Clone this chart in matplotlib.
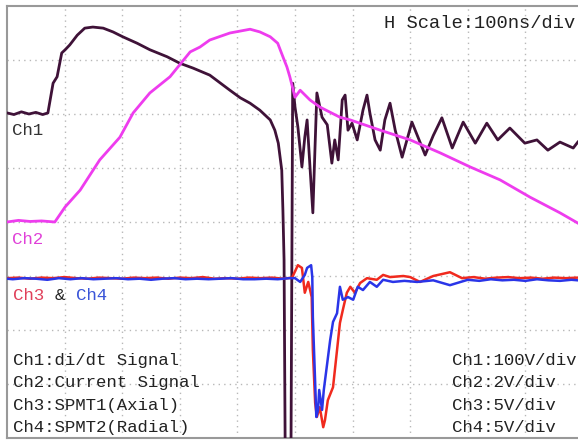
import matplotlib
matplotlib.use('Agg')
import matplotlib.pyplot as plt

# time in ns (100 ns/div), amplitude in screen divisions
ch1_t = [0, 12, 25, 38, 50, 62, 71, 80, 87, 95, 101, 109, 122, 135, 149, 167, 184, 201, 226, 248,
         278, 300, 323, 352, 387, 405, 422, 439, 457, 465, 471, 477, 479, 481, 483, 493, 496, 500,
         505, 512, 517, 521, 526, 531, 535, 538, 547, 556, 564, 569, 575, 582, 587, 592, 599, 608,
         618, 625, 630, 639, 648, 656, 665, 674, 686, 703, 726, 740, 755, 773, 792, 813, 833, 852,
         873, 899, 920, 939, 960, 983, 991]
ch1_v = [2.02, 1.99, 2.04, 2.0, 2.03, 1.99, 2.02, 2.57, 2.69, 3.13, 3.19, 3.28, 3.46, 3.59, 3.61,
         3.59, 3.52, 3.43, 3.31, 3.19, 3.06, 2.94, 2.85, 2.72, 2.44, 2.3, 2.2, 2.07, 1.89, 1.7, 1.46,
         0.96, 0.22, -0.7, -4.3, -4.3, 2.57, 2.13, 1.76, 1.02, 1.57, 1.89, 1.02, 0.17, 1.46, 2.39,
         1.94, 1.8, 1.09, 1.52, 1.15, 2.26, 2.35, 1.7, 1.83, 1.52, 2.07, 2.35, 2.02, 1.52, 1.33,
         1.89, 2.2, 1.7, 1.2, 1.85, 1.24, 1.6, 1.93, 1.37, 1.85, 1.46, 1.83, 1.52, 1.74, 1.46, 1.52,
         1.33, 1.48, 1.37, 1.48]

ch2_t = [0, 20, 40, 60, 83, 101, 127, 161, 196, 219, 248, 283, 302, 318, 335, 352, 387, 422, 439,
         457, 470, 479, 486, 491, 500, 509, 526, 543, 578, 596, 648, 700, 752, 804, 856, 908, 960, 991]
ch2_v = [0.0, 0.03, 0.01, 0.02, 0.0, 0.28, 0.59, 1.15, 1.57, 2.02, 2.39, 2.69, 2.94, 3.15, 3.24,
         3.37, 3.5, 3.57, 3.52, 3.43, 3.31, 3.06, 2.87, 2.69, 2.31, 2.44, 2.26, 2.13, 1.94, 1.89,
         1.7, 1.52, 1.28, 1.02, 0.78, 0.46, 0.17, -0.02]

ch3_t = [0, 20, 40, 60, 80, 100, 120, 140, 160, 180, 200, 220, 240, 260, 280, 300, 320, 340, 360,
         380, 400, 420, 440, 460, 480, 495, 505, 512, 517, 523, 529, 531, 535, 538, 543, 549, 552,
         557, 566, 573, 578, 583, 590, 596, 604, 613, 625, 642, 653, 665, 688, 700, 717, 740, 769,
         790, 810, 830, 850, 870, 890, 910, 930, 950, 970, 991]
ch3_v = [-1.04, -1.03, -1.05, -1.03, -1.04, -1.02, -1.04, -1.05, -1.03, -1.04, -1.05, -1.03, -1.04,
         -1.03, -1.05, -1.03, -1.04, -1.02, -1.05, -1.04, -1.05, -1.03, -1.04, -1.03, -1.05, -1.03,
         -0.8, -0.85, -1.31, -1.11, -1.39, -2.37, -3.35, -3.61, -3.43, -3.8, -3.67, -3.3, -3.06,
         -2.37, -1.87, -1.63, -1.31, -1.2, -1.31, -1.13, -1.04, -1.07, -0.98, -1.02, -1.0, -1.02,
         -1.11, -1.0, -0.93, -1.04, -1.02, -1.05, -1.03, -1.02, -1.04, -1.03, -1.05, -1.03, -1.04,
         -1.03]

ch4_t = [0, 10, 30, 50, 70, 90, 110, 130, 150, 170, 190, 210, 230, 250, 270, 290, 310, 330, 350,
         370, 390, 410, 430, 450, 470, 490, 500, 509, 517, 521, 528, 530, 531, 535, 537, 540, 542,
         547, 550, 556, 561, 566, 573, 578, 583, 592, 601, 609, 618, 630, 642, 653, 670, 690, 712,
         740, 769, 800, 820, 840, 860, 880, 900, 920, 940, 960, 980, 991]
ch4_v = [-1.05, -1.06, -1.04, -1.05, -1.07, -1.04, -1.06, -1.04, -1.06, -1.05, -1.04, -1.06, -1.05,
         -1.07, -1.05, -1.04, -1.06, -1.05, -1.06, -1.05, -1.04, -1.06, -1.06, -1.05, -1.06, -1.04,
         -1.04, -1.11, -0.98, -0.85, -0.8, -1.02, -1.76, -2.98, -3.61, -3.48, -3.11, -3.48, -3.11,
         -2.61, -2.19, -1.85, -1.69, -1.2, -1.44, -1.39, -1.44, -1.2, -1.26, -1.11, -1.2, -1.07,
         -1.11, -1.09, -1.11, -1.08, -1.17, -1.07, -1.09, -1.06, -1.08, -1.07, -1.09, -1.06, -1.08,
         -1.09, -1.07, -1.08]

ch_desc = ['Ch1:di/dt Signal', 'Ch2:Current Signal', 'Ch3:SPMT1(Axial)', 'Ch4:SPMT2(Radial)']
ch_scale = ['Ch1:100V/div', 'Ch2:2V/div', 'Ch3:5V/div', 'Ch4:5V/div']
h_scale = 'H Scale:100ns/div'

mono = 'Liberation Mono'
txt = '#222222'

W, H = 578, 440
fig = plt.figure(figsize=(W / 100, H / 100), dpi=100)
fig.patch.set_facecolor('white')
# screen is 10 x 8 divisions; right edge of the graticule falls just off the image
ax = fig.add_axes([7 / W, 2 / H, 576 / W, 432 / H])
ax.set_xlim(0, 1000)
ax.set_ylim(-4, 4)

for x in range(100, 1000, 100):
    ax.axvline(x, color='#b8b8b8', lw=1, ls=(0, (1, 3)), zorder=1)
for y in range(-3, 4):
    ax.axhline(y, color='#b8b8b8', lw=1, ls=(0, (1, 3)), zorder=1)

ax.plot(ch1_t, ch1_v, color='#3f1238', lw=2.0, zorder=3)
ax.plot(ch2_t, ch2_v, color='#ee3cee', lw=2.0, zorder=4)
ax.plot(ch3_t, ch3_v, color='#f02a1e', lw=1.8, zorder=5)
ax.plot(ch4_t, ch4_v, color='#2a35e8', lw=1.8, zorder=6)

ax.set_xticks([])
ax.set_yticks([])
for side in ['left', 'top', 'bottom', 'right']:
    ax.spines[side].set_color('#999999')
    ax.spines[side].set_linewidth(1.5)

ax.text(986, 3.68, h_scale, ha='right', va='center', fontsize=13.5, family=mono, color=txt)

ax.text(9, 1.70, 'Ch1', ha='left', va='center', fontsize=12.5, family=mono, color='#333333')
ax.text(9, -0.33, 'Ch2', ha='left', va='center', fontsize=12.5, family=mono, color='#e040d8')
ax.text(10, -1.37, 'Ch3', ha='left', va='center', fontsize=12.5, family=mono, color='#e0405a')
ax.text(83, -1.37, '&', ha='left', va='center', fontsize=12.5, family=mono, color=txt)
ax.text(120, -1.37, 'Ch4', ha='left', va='center', fontsize=12.5, family=mono, color='#3a55d8')

row_v = [-2.57, -2.98, -3.39, -3.80]
for label, v in zip(ch_desc, row_v):
    ax.text(10, v, label, ha='left', va='center', fontsize=12.5, family=mono, color=txt)
for label, v in zip(ch_scale, row_v):
    ax.text(773, v, label, ha='left', va='center', fontsize=12.5, family=mono, color=txt)

fig.savefig('out.png', dpi=100, facecolor='white')
